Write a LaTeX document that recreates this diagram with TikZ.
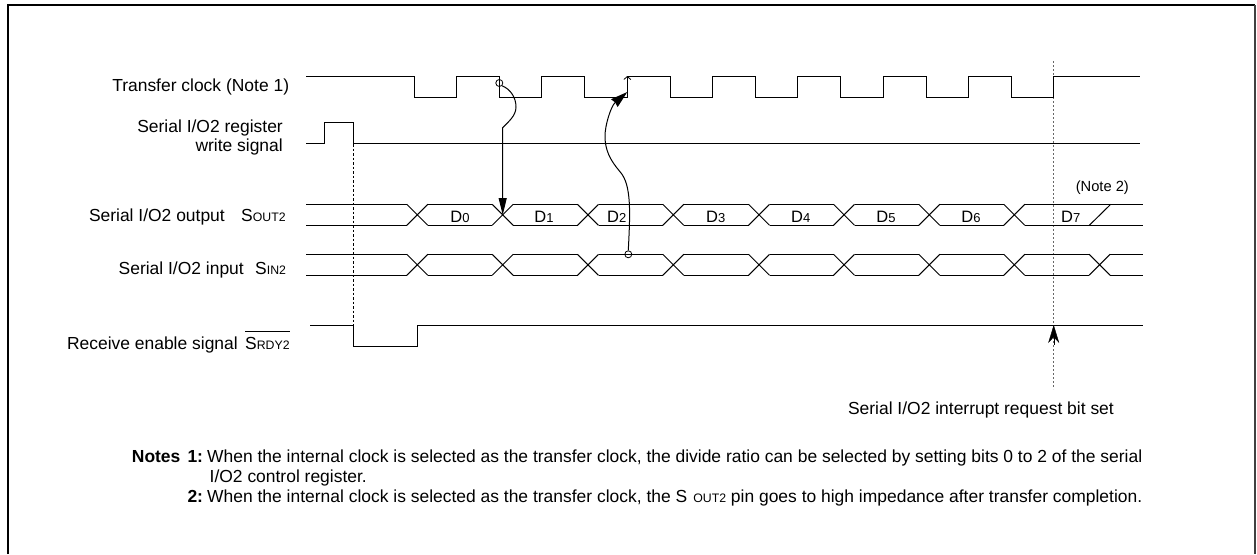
\documentclass[tikz,border=0pt]{standalone}
\usepackage{fontspec}
\setmainfont{Liberation Sans}
\usetikzlibrary{arrows.meta}
\newcommand{\lblfont}{\fontsize{17.45}{19}\selectfont}
\newcommand{\subfont}{\fontsize{12.3}{14}\selectfont}
\newcommand{\sig}[2]{#1{\subfont #2}}
\newcommand{\dbit}[2]{\fontsize{16.5}{18}\selectfont #1{\fontsize{13}{15}\selectfont #2}}
\tikzset{
	wave/.style={line width=1pt},
	lbl/.style={inner sep=0pt, font=\lblfont, anchor=base east},
	lbll/.style={inner sep=0pt, font=\lblfont, anchor=base west},
	bitlbl/.style={inner sep=0pt, anchor=base},
	ring/.style={circle, draw, line width=0.8pt, inner sep=0pt, minimum size=7pt},
	guide/.style={line width=0.8pt, dash pattern=on 2.5pt off 2pt},
	guidegray/.style={line width=1.3pt, draw=black!60, dash pattern=on 2pt off 2pt},
}
\begin{document}
\begin{tikzpicture}[x=1pt, y=-1pt]
	\useasboundingbox (0,0) rectangle (1257,554);
	\def\Ta{204.3} \def\Tb{225.3} \def\Ra{254.3} \def\Rb{275.3}
	% frame
	\draw [line width=2.5pt] (8,554) -- (8,5) -- (1255,5);
	\draw [line width=1.5pt, black!75] (1255,5) -- (1255,554);
	% guides
	\draw [guide] (353.5,144) -- (353.5,325);
	\draw [guidegray] (1053.7,61) -- (1053.7,389);
	% clock and write signal
	\draw [wave] (306,76) -- (414,76) |- (456.7,97.7) |- (499.3,76) |- (541.7,97.7) |- (584.7,76) |- (627.3,97.7) |- (670,76)
		|- (712.3,97.7) |- (755.3,76) |- (797.7,97.7) |- (840.7,76) |- (883.3,97.7) |- (926,76) |- (968.3,97.7) |- (1011.7,76)
		|- (1053.7,97.7) |- (1140,76);
	\draw [wave] (306,143.7) -| (324.7,122.3) -| (353.3,143.7) -- (1140,143.7);
	% output bus
	\foreach \a/\b in {306/406.8,427.8/492.2,513.2/577.5,598.5/662.8,683.8/748.5,769.5/833.5,854.5/918.8,939.8/1003.8,1024.8/1143} {
		\draw [wave] (\a,\Ta) -- (\b,\Ta) (\a,\Tb) -- (\b,\Tb);
	}
	% input bus
	\foreach \a/\b in {306/406.8,427.8/492.2,513.2/577.5,598.5/662.8,683.8/748.5,769.5/833.5,854.5/918.8,939.8/1003.8,1024.8/1089.1,1110.1/1143} {
		\draw [wave] (\a,\Ra) -- (\b,\Ra) (\a,\Rb) -- (\b,\Rb);
	}
	\foreach \c in {417.3,502.7,588,673.3,759,844,929.3,1014.3} {
		\draw [wave] (\c-10.5,\Ta) -- (\c+10.5,\Tb) (\c-10.5,\Tb) -- (\c+10.5,\Ta);
		\draw [wave] (\c-10.5,\Ra) -- (\c+10.5,\Rb) (\c-10.5,\Rb) -- (\c+10.5,\Ra);
	}
	\draw [wave] (1089.1,\Ra) -- (1110.1,\Rb) (1089.1,\Rb) -- (1110.1,\Ra);
	\draw [wave] (1089.3,\Tb) -- (1110.7,\Ta);
	% ready signal
	\draw [wave] (310,325) -| (353.5,346.3) -| (417.7,325) -- (1143,325);
	% bit labels
	\foreach \x/\n in {460/0,544/1,616.7/2,715.7/3,800.7/4,886/5,971/6,1070.7/7} {
		\node [bitlbl] (bit\n) at (\x,222.3) {\dbit{D}{\n}};
	}
	\node [bitlbl, font=\fontsize{14.7}{16}\selectfont] (note2) at (1102.3,191.7) {(Note 2)};
	% signal names
	\node [lbl] (clk) at (289.3,91.7) {Transfer clock (Note 1)};
	\node [lbl] (wra) at (283,132.7) {Serial I/O2 register};
	\node [lbl] (wrb) at (283,151.7) {write signal};
	\node [lbl] (sout) at (225,221.7) {Serial I/O2 output};
	\node [lbll] (soutn) at (241,221.7) {\sig{S}{OUT2}};
	\node [lbl] (sin) at (244,274) {Serial I/O2 input};
	\node [lbll] (sinn) at (255,274) {\sig{S}{IN2}};
	\node [lbl] (rdy) at (238,349) {Receive enable signal};
	\node [lbll] (rdyn) at (245,349) {\sig{S}{RDY2}};
	\draw [line width=0.8pt] ([yshift=5pt]rdyn.north west) -- ([yshift=5pt]rdyn.north east);
	\node [lbl] (intr) at (1114,414) {Serial I/O2 interrupt request bit set};
	% timing arrows
	\node [ring] (c1) at (499.3,83) {};
	\node [ring] (c2) at (628.3,254.3) {};
	\coordinate (t1) at (502.7,215);
	\coordinate (t2) at (627.3,92);
	\coordinate (t3) at (627.3,76);
	\coordinate (t4) at (1053.7,325);
	\coordinate (t5) at (1053.7,345);
	\draw [line width=1pt, -{Stealth[length=17pt, width=8pt, inset=0pt]}] (c1.south east) .. controls (510,89) and (516,97) .. (516,107)
		.. controls (516,116) and (508,122) .. (502.7,127.7) -- (t1);
	\draw [line width=1pt, -{Stealth[length=17pt, width=10pt, inset=1pt]}] (c2.north) .. controls (630,215) and (632,185) .. (620,171.7)
		.. controls (610,160) and (605,150) .. (605,136) .. controls (605,125) and (611,106) .. (t2);
	\draw [line width=0.8pt, -{Straight Barb[length=3pt, width=7pt]}] (t2) -- (t3);
	\draw [-{Stealth[length=18pt, width=11pt]}] (t5) -- (t4);
	% notes
	\node [lbll, font=\lblfont\bfseries] (nhead) at (131.7,462.7) {Notes};
	\node [lbll, font=\lblfont\bfseries] (n1) at (187.3,462.7) {1:};
	\node [lbll] (n1a) at (207,462.7) {When the internal clock is selected as the transfer clock, the divide ratio can be selected by setting bits 0 to 2 of the serial};
	\node [lbll] (n1b) at (209.5,482.7) {I/O2 control register.};
	\node [lbll, font=\lblfont\bfseries] (n2) at (187.3,502.7) {2:};
	\node [lbll] (n2a) at (207,502.7) {When the internal clock is selected as the transfer clock, the S\kern6pt\sig{}{OUT2} pin goes to high impedance after transfer completion.};
\end{tikzpicture}
\end{document}
